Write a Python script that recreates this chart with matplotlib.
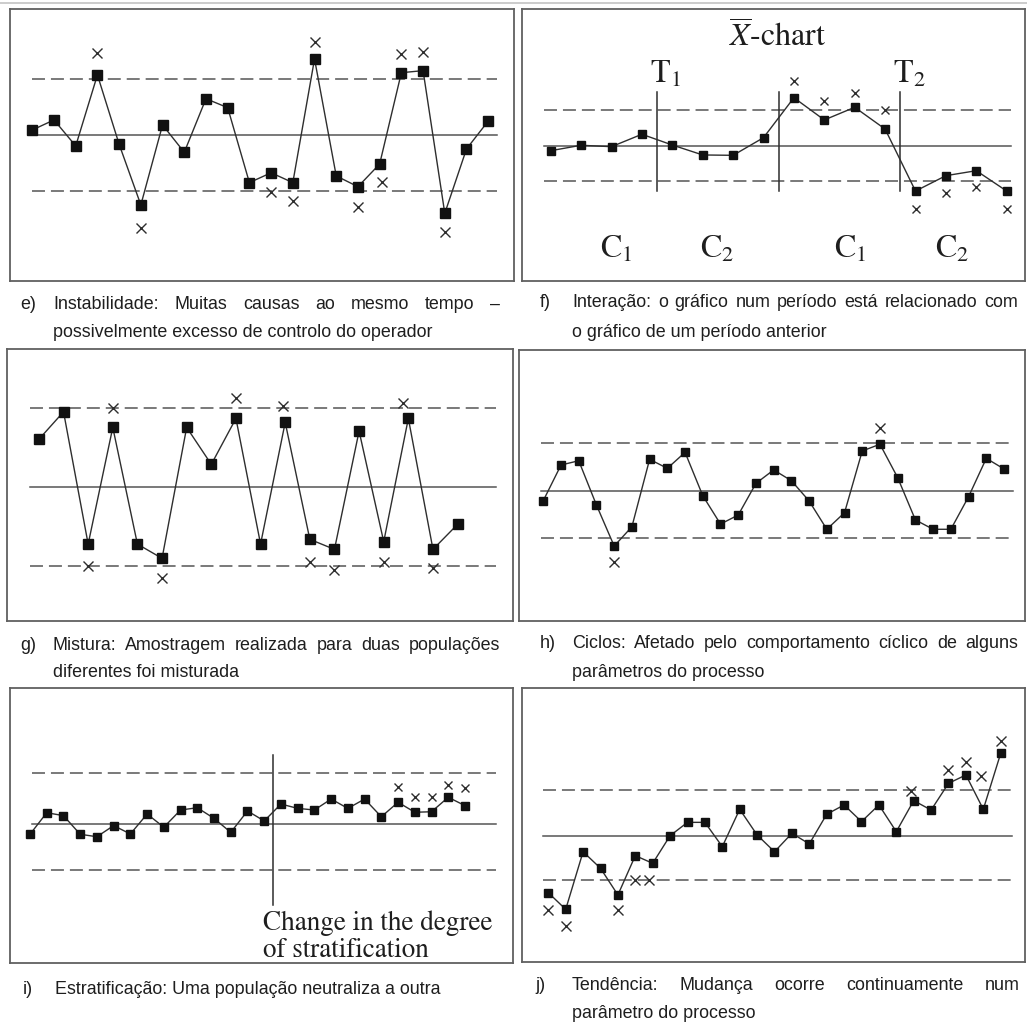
import matplotlib
matplotlib.use("Agg")
import matplotlib.pyplot as plt
from matplotlib import font_manager

plt.rcParams["mathtext.fontset"] = "stix"

W, H, DPI = 1027, 1025, 100

# ---------------------------------------------------------------- data
# values are in sigma units around the centre line of each chart

# e) instability
e_values = [0.27, 0.81, -0.59, 3.23, -0.50, -3.76, 0.54, -0.93, 1.95, 1.47, -2.56,
            -2.03, -2.56, 4.09, -2.20, -2.78, -1.56, 3.35, 3.46, -4.21, -0.75, 0.75]
e_limits = [3.0, 0.0, -3.0]
e_flag_x = [4, 6, 12, 13, 14, 16, 17.1, 18, 19, 20]
e_flag_y = [4.39, -5.02, -3.05, -3.53, 5.02, -3.85, -2.51, 4.34, 4.45, -5.23]

# f) interaction
f_values = [-0.44, 0.02, -0.10, 0.95, 0.04, -0.80, -0.83, 0.66,
            4.04, 2.16, 3.23, 1.39, -3.85, -2.55, -2.13, -3.85]
f_limits = [3.0, 0.0, -3.0]
f_flag_x = [9, 10, 11, 12, 13, 14, 15, 16]
f_flag_y = [5.45, 3.76, 4.41, 3.00, -5.37, -4.04, -3.48, -5.37]
f_breaks = [4.5, 8.5, 12.5]
f_break_labels = ["T$_1$", "", "T$_2$"]
f_period_labels = ["C$_1$", "C$_2$", "C$_1$", "C$_2$"]
f_title = r"$\overline{X}$-chart"

# g) mixture
g_values = [1.80, 2.84, -2.17, 2.25, -2.17, -2.71, 2.25, 0.85, 2.59,
            -2.17, 2.44, -1.99, -2.37, 2.11, -2.08, 2.59, -2.37, -1.42]
g_limits = [3.0, 0.0, -3.0]
g_flag_x = [3, 4, 6, 9, 10.9, 12, 13, 15, 15.8, 17]
g_flag_y = [-3.00, 3.00, -3.47, 3.35, 3.07, -2.84, -3.15, -2.84, 3.16, -3.09]

# h) cycles
h_values = [-0.64, 1.61, 1.88, -0.92, -3.51, -2.29, 1.97, 1.40, 2.41, -0.33,
            -2.12, -1.55, 0.45, 1.30, 0.62, -0.66, -2.45, -1.40, 2.50, 2.92,
            0.81, -1.86, -2.45, -2.45, -0.39, 2.03, 1.36]
h_limits = [3.0, 0.0, -3.0]
h_flag_x = [5, 20]
h_flag_y = [-4.54, 3.93]

# i) stratification
i_values = [-0.64, 0.70, 0.52, -0.64, -0.79, -0.10, -0.62, 0.62, -0.20, 0.87,
            1.01, 0.35, -0.52, 0.81, 0.19, 1.24, 0.97, 0.87, 1.55, 0.97,
            1.55, 0.45, 1.35, 0.73, 0.76, 1.66, 1.14]
i_limits = [3.15, 0.0, -2.86]
i_flag_x = [23, 24, 25, 26, 27]
i_flag_y = [2.28, 1.70, 1.70, 2.42, 2.26]
i_change_at = 15.5
i_change_text = ["Change in the degree", "of stratification"]

# j) trend
j_values = [-3.78, -4.89, -1.05, -2.15, -3.93, -1.31, -1.82, 0.02, 0.91, 0.91,
            -0.71, 1.78, 0.07, -1.05, 0.18, -0.53, 1.45, 2.07, 0.96, 2.07,
            0.29, 2.36, 1.73, 3.51, 4.07, 1.78, 5.51]
j_limits = [3.07, 0.0, -2.93]
j_flag_x = [1, 2, 5, 6, 6.8, 21.85, 24, 25, 25.85, 27]
j_flag_y = [-4.93, -6.00, -4.93, -2.93, -2.93, 3.00, 4.40, 4.96, 4.02, 6.36]

# captions
captions = {
    "e": ("e)", ["Instabilidade: Muitas causas ao mesmo tempo –",
                 "possivelmente excesso de controlo do operador"]),
    "f": ("f)", ["Interação: o gráfico num período está relacionado com",
                 "o gráfico de um período anterior"]),
    "g": ("g)", ["Mistura: Amostragem realizada para duas populações",
                 "diferentes foi misturada"]),
    "h": ("h)", ["Ciclos: Afetado pelo comportamento cíclico de alguns",
                 "parâmetros do processo"]),
    "i": ("i)", ["Estratificação: Uma população neutraliza a outra"]),
    "j": ("j)", ["Tendência: Mudança ocorre continuamente num",
                 "parâmetro do processo"]),
}

# ---------------------------------------------------------------- layout (pixels)
layout = {
    "e": dict(box=(10, 9, 514, 281), x1=32.3, dx=21.71, cl=135.0, s=18.6,
              span=(31.7, 497.3), ms=6.5, xs=7.9),
    "f": dict(box=(522, 9, 1025, 281), x1=550.7, dx=30.4, cl=145.5, s=11.83,
              span=(544.3, 1010.7), ms=5.8, xs=5.8),
    "g": dict(box=(7, 349, 513, 621), x1=38.9, dx=24.63, cl=486.8, s=26.4,
              span=(30.0, 495.7), ms=6.5, xs=7.9),
    "h": dict(box=(519, 350, 1025, 621), x1=543.3, dx=17.72, cl=490.5, s=15.83,
              span=(541.0, 1012.7), ms=5.8, xs=7.2),
    "i": dict(box=(10, 688, 513, 963), x1=30.0, dx=16.73, cl=824.0, s=16.1,
              span=(31.7, 495.7), ms=5.4, xs=5.8),
    "j": dict(box=(522, 688, 1025, 962), x1=548.3, dx=17.4, cl=836.0, s=15.0,
              span=(543.3, 1011.7), ms=5.8, xs=7.9),
}

caption_pos = {
    "e": dict(lx=20, x0=53, x1=500, ys=[309, 337]),
    "f": dict(lx=540, x0=572, x1=1018, ys=[307, 337]),
    "g": dict(lx=20, x0=53, x1=500, ys=[650, 677]),
    "h": dict(lx=540, x0=572, x1=1018, ys=[648, 677]),
    "i": dict(lx=23, x0=55, x1=None, ys=[994]),
    "j": dict(lx=535, x0=572, x1=1020, ys=[990, 1018]),
}

series = {
    "e": (e_values, e_limits, e_flag_x, e_flag_y),
    "f": (f_values, f_limits, f_flag_x, f_flag_y),
    "g": (g_values, g_limits, g_flag_x, g_flag_y),
    "h": (h_values, h_limits, h_flag_x, h_flag_y),
    "i": (i_values, i_limits, i_flag_x, i_flag_y),
    "j": (j_values, j_limits, j_flag_x, j_flag_y),
}

LINE_C = "#2e2e2e"
MARK_C = "#111111"
LIMIT_C = "#555555"
BOX_C = "#606060"
TEXT_C = "#1e1e1e"
SERIF = "STIXGeneral"

names = {f.name for f in font_manager.fontManager.ttflist}
if "Liberation Sans Narrow" in names:
    CAP_FAMILY, CAP_SIZE = "Liberation Sans Narrow", 15.6
else:
    CAP_FAMILY, CAP_SIZE = "Liberation Sans", 12.9

fig = plt.figure(figsize=(W / DPI, H / DPI), dpi=DPI)
fig.patch.set_facecolor("white")

# thin rule along the top edge
fig.add_artist(plt.Line2D([0, 1], [1 - 3 / H, 1 - 3 / H], transform=fig.transFigure,
                          color="#c4c4c4", lw=1.2))


def make_axes(key):
    L = layout[key]
    l, t, r, b = L["box"]
    ax = fig.add_axes([l / W, 1 - b / H, (r - l) / W, (b - t) / H])
    ax.set_xlim(1 + (l - L["x1"]) / L["dx"], 1 + (r - L["x1"]) / L["dx"])
    ax.set_ylim((L["cl"] - b) / L["s"], (L["cl"] - t) / L["s"])
    ax.set_xticks([])
    ax.set_yticks([])
    ax.set_facecolor("white")
    for sp in ax.spines.values():
        sp.set_color(BOX_C)
        sp.set_linewidth(1.3)
    return ax


axes = {}
for key in ["e", "f", "g", "h", "i", "j"]:
    L = layout[key]
    ax = make_axes(key)
    axes[key] = ax
    values, limits, fx, fy = series[key]
    xa = 1 + (L["span"][0] - L["x1"]) / L["dx"]
    xb = 1 + (L["span"][1] - L["x1"]) / L["dx"]
    ucl, cl, lcl = limits
    ax.plot([xa, xb], [ucl, ucl], color=LIMIT_C, lw=1.1, ls=(0, (8.5, 3.9)))
    ax.plot([xa, xb], [lcl, lcl], color=LIMIT_C, lw=1.1, ls=(0, (8.5, 3.9)))
    ax.plot([xa, xb], [cl, cl], color=LIMIT_C, lw=1.1)
    xs = list(range(1, len(values) + 1))
    ax.plot(xs, values, color=LINE_C, lw=1.0, marker="s", ms=L["ms"],
            mfc=MARK_C, mec=MARK_C, zorder=3)
    ax.plot(fx, fy, ls="none", marker="x", ms=L["xs"], mew=1.0,
            color=LINE_C, zorder=3)

# f) change points and labels
axf = axes["f"]
Lf = layout["f"]
def fy_px(px):
    return (Lf["cl"] - px) / Lf["s"]
def fx_px(px):
    return 1 + (px - Lf["x1"]) / Lf["dx"]
for xb_, lab in zip(f_breaks, f_break_labels):
    axf.plot([xb_, xb_], [fy_px(91.7), fy_px(190.7)], color=LINE_C, lw=1.1)
    if lab:
        axf.text(xb_ - 0.23, fy_px(83.3), lab, family=SERIF, fontsize=23,
                 ha="left", va="baseline", color=TEXT_C)
axf.text(fx_px(778), fy_px(46.7), f_title, family=SERIF, fontsize=23,
         ha="center", va="baseline", color=TEXT_C)
period_left_px = [600, 700, 834.3, 935]
for px, lab in zip(period_left_px, f_period_labels):
    axf.text(fx_px(px), fy_px(258.3), lab, family=SERIF, fontsize=23,
             ha="left", va="baseline", color=TEXT_C)

# i) change in stratification
axi = axes["i"]
Li = layout["i"]
def iy_px(px):
    return (Li["cl"] - px) / Li["s"]
axi.plot([i_change_at, i_change_at], [iy_px(755), iy_px(905)], color=LINE_C, lw=1.1)
for line, base in zip(i_change_text, [930, 956.7]):
    axi.text(1 + (263 - Li["x1"]) / Li["dx"], iy_px(base), line, family=SERIF,
             fontsize=19.5, ha="left", va="baseline", color=TEXT_C)

# captions
renderer = fig.canvas.get_renderer()


def put_line(text, x0, x1, y, justify):
    words = text.split(" ")
    if not justify or len(words) < 2:
        fig.text(x0 / W, 1 - y / H, text, family=CAP_FAMILY, fontsize=CAP_SIZE,
                 ha="left", va="baseline", color=TEXT_C)
        return
    objs = [fig.text(0, 1 - y / H, w, family=CAP_FAMILY, fontsize=CAP_SIZE,
                     ha="left", va="baseline", color=TEXT_C) for w in words]
    widths = [o.get_window_extent(renderer).width for o in objs]
    gap = (x1 - x0 - sum(widths)) / (len(words) - 1)
    x = x0
    for o, w in zip(objs, widths):
        o.set_x(x / W)
        x += w + gap


for key, (label, lines) in captions.items():
    P = caption_pos[key]
    fig.text(P["lx"] / W, 1 - P["ys"][0] / H, label, family=CAP_FAMILY,
             fontsize=CAP_SIZE, ha="left", va="baseline", color=TEXT_C)
    for n, (line, y) in enumerate(zip(lines, P["ys"])):
        last = n == len(lines) - 1
        put_line(line, P["x0"], P["x1"], y, justify=(not last and P["x1"] is not None))

fig.savefig("out.png", dpi=DPI, facecolor="white")
